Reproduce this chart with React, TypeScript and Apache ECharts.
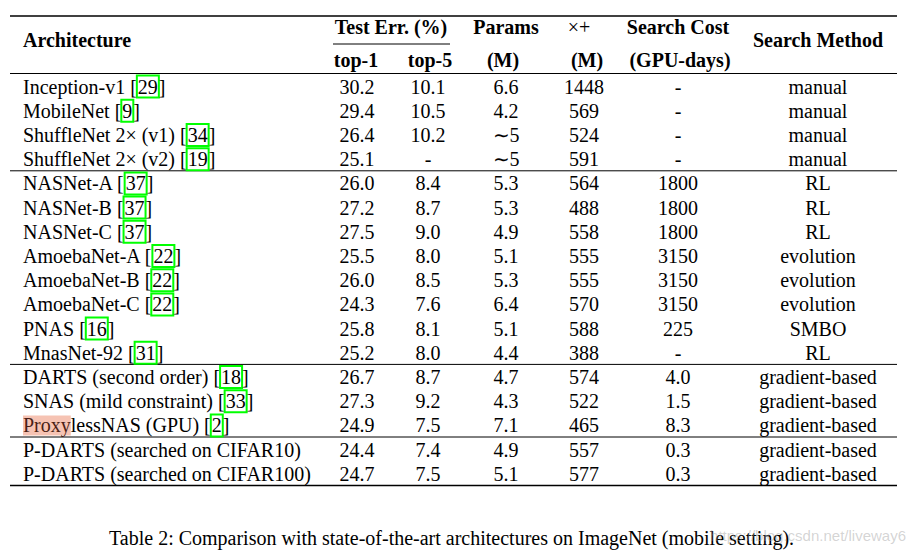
import React, { useEffect, useRef } from "react";
import * as echarts from "echarts";

// ---- data ----
const architectures = [
  "Inception-v1", "MobileNet", "ShuffleNet 2\u00d7 (v1)", "ShuffleNet 2\u00d7 (v2)",
  "NASNet-A", "NASNet-B", "NASNet-C", "AmoebaNet-A", "AmoebaNet-B", "AmoebaNet-C",
  "PNAS", "MnasNet-92", "DARTS (second order)", "SNAS (mild constraint)",
  "ProxylessNAS (GPU)", "P-DARTS (searched on CIFAR10)", "P-DARTS (searched on CIFAR100)",
];
const refs = ["29", "9", "34", "19", "37", "37", "37", "22", "22", "22", "16", "31", "18", "33", "2", "", ""];
const top1 = ["30.2", "29.4", "26.4", "25.1", "26.0", "27.2", "27.5", "25.5", "26.0", "24.3", "25.8", "25.2", "26.7", "27.3", "24.9", "24.4", "24.7"];
const top5 = ["10.1", "10.5", "10.2", "-", "8.4", "8.7", "9.0", "8.0", "8.5", "7.6", "8.1", "8.0", "8.7", "9.2", "7.5", "7.4", "7.5"];
const params = ["6.6", "4.2", "\u223c5", "\u223c5", "5.3", "5.3", "4.9", "5.1", "5.3", "6.4", "5.1", "4.4", "4.7", "4.3", "7.1", "4.9", "5.1"];
const multAdds = ["1448", "569", "524", "591", "564", "488", "558", "555", "555", "570", "588", "388", "574", "522", "465", "557", "577"];
const searchCost = ["-", "-", "-", "-", "1800", "1800", "1800", "3150", "3150", "3150", "225", "-", "4.0", "1.5", "8.3", "0.3", "0.3"];
const searchMethod = [
  "manual", "manual", "manual", "manual", "RL", "RL", "RL", "evolution", "evolution", "evolution",
  "SMBO", "RL", "gradient-based", "gradient-based", "gradient-based", "gradient-based", "gradient-based",
];
const groupEnds = [4, 12, 15];
const highlightedPrefix = "Proxy";
const caption = "Table 2: Comparison with state-of-the-art architectures on ImageNet (mobile setting).";
const watermark = "https://blog.csdn.net/liveway6";

// ---- layout ----
const W = 909;
const H = 554;
const GRID_TOP = 74;
const PITCH = 24.2;
const FAMILY = "Liberation Serif";
const FS = 20;
const colX = [23, 357, 428, 506, 584, 678, 818];
const columns = [architectures, top1, top5, params, multAdds, searchCost, searchMethod];

export default function App() {
  const ref = useRef<HTMLDivElement>(null);
  useEffect(() => {
    if (!ref.current) return;
    const chart = echarts.init(ref.current, null, { renderer: "svg" });
    const nRows = architectures.length;
    const data: number[][] = [];
    for (let c = 0; c < columns.length; c++) {
      for (let r = 0; r < nRows; r++) data.push([c, r]);
    }
    const rich = {
      n: { fill: "#000", fontFamily: FAMILY, fontSize: FS, lineHeight: 20, verticalAlign: "middle" },
      c: {
        fill: "#000", fontFamily: FAMILY, fontSize: FS, lineHeight: 18, verticalAlign: "middle",
        borderColor: "#00ff00", borderWidth: 2, padding: [1, 1, 1, 1],
      },
      h: {
        fill: "#4a1e16", fontFamily: FAMILY, fontSize: FS, lineHeight: 20, verticalAlign: "middle",
        backgroundColor: "#f6c3b3",
      },
    };
    const hLine = (y: number, w: number) => ({
      type: "line",
      shape: { x1: 10, y1: y, x2: 897, y2: y },
      style: { stroke: "#000", lineWidth: w },
    });
    const hdr = (text: string, x: number, y: number, bold = true, align = "center") => ({
      type: "text",
      x,
      y,
      style: {
        text,
        fill: "#000",
        fontFamily: FAMILY,
        fontSize: FS,
        fontWeight: bold ? "bold" : "normal",
        align,
        verticalAlign: "middle",
      },
    });
    const gridBottom = GRID_TOP + nRows * PITCH;
    chart.setOption({
      animation: false,
      backgroundColor: "#fff",
      grid: { left: 0, right: 0, top: GRID_TOP, height: nRows * PITCH },
      xAxis: { type: "value", min: 0, max: W, show: false },
      yAxis: { type: "category", data: architectures, inverse: true, show: false },
      series: [
        {
          type: "custom",
          data,
          renderItem: (p: any, api: any) => {
            const c = api.value(0);
            const r = api.value(1);
            const pt = api.coord([colX[c], r]);
            if (c === 0) {
              let name = architectures[r];
              let txt = "";
              if (name.startsWith(highlightedPrefix)) {
                txt += `{h|${highlightedPrefix}}`;
                name = name.slice(highlightedPrefix.length);
              }
              txt += refs[r] ? `{n|${name} [}{c|${refs[r]}}{n|]}` : `{n|${name}}`;
              return {
                type: "text",
                x: pt[0],
                y: pt[1] + 0.5,
                style: { text: txt, rich, align: "left", verticalAlign: "middle" },
              };
            }
            return {
              type: "text",
              x: pt[0],
              y: pt[1] + 0.5,
              style: {
                text: columns[c][r],
                fill: "#000",
                fontFamily: FAMILY,
                fontSize: FS,
                align: "center",
                verticalAlign: "middle",
              },
            };
          },
        },
      ],
      graphic: [
        hLine(16, 1.5),
        hLine(GRID_TOP - 0.5, 1),
        ...groupEnds.map((g) => hLine(GRID_TOP + g * PITCH, 1)),
        hLine(gridBottom, 1.5),
        { type: "line", shape: { x1: 333, y1: 44, x2: 450, y2: 44 }, style: { stroke: "#000", lineWidth: 1 } },
        hdr("Architecture", 23, 40, true, "left"),
        hdr("Test Err. (%)", 391, 27),
        hdr("top-1", 356, 60),
        hdr("top-5", 430, 60),
        hdr("Params", 506, 27),
        hdr("(M)", 503, 60),
        hdr("\u00d7+", 579, 27, false),
        hdr("(M)", 587, 60),
        hdr("Search Cost", 678, 27),
        hdr("(GPU-days)", 680, 60),
        hdr("Search Method", 818, 40),
        {
          type: "text", x: 109, y: 538,
          style: { text: caption, fill: "#000", fontFamily: FAMILY, fontSize: FS, align: "left", verticalAlign: "middle" },
        },
        {
          type: "text", x: 906, y: 535,
          style: {
            text: watermark, fill: "rgba(160,160,160,0.45)",
            fontFamily: "Liberation Sans", fontSize: 15, align: "right", verticalAlign: "middle",
          },
        },
      ],
    });
    return () => chart.dispose();
  }, []);
  return (
    <div
      ref={ref}
      style={{ position: "fixed", left: 0, top: 0, width: W, height: H, background: "#fff" }}
    />
  );
}
